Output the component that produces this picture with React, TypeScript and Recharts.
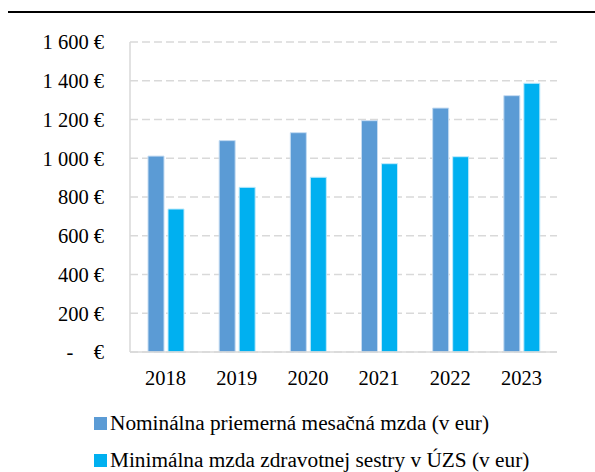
import React from 'react';
import { BarChart, Bar, XAxis, YAxis, CartesianGrid } from 'recharts';

const years = ['2018', '2019', '2020', '2021', '2022', '2023'];
const nominalWage = [1011, 1091, 1132, 1194, 1259, 1323];
const nurseMinWage = [738, 850, 902, 972, 1008, 1387];
const yTicks = [0, 200, 400, 600, 800, 1000, 1200, 1400, 1600];

const seriesNames = [
  'Nominálna priemerná mesačná mzda (v eur)',
  'Minimálna mzda zdravotnej sestry v ÚZS (v eur)',
];
const seriesColors = ['#5B9BD5', '#00B0F0'];

const chartData = years.map((year, i) => ({
  year,
  nominal: nominalWage[i],
  nurse: nurseMinWage[i],
}));

const FONT = '"Liberation Serif", "Times New Roman", serif';

const formatEuro = (v: number) => {
  if (v === 0) return '-\u00A0\u00A0\u00A0\u00A0€';
  const s = String(v);
  const withSpaces = s.length > 3 ? s.slice(0, s.length - 3) + ' ' + s.slice(-3) : s;
  return `${withSpaces} €`;
};

const App: React.FC = () => {
  return (
    <div
      style={{
        position: 'absolute',
        left: 0,
        top: 0,
        width: 595,
        height: 472,
        background: '#fff',
        fontFamily: FONT,
        overflow: 'hidden',
      }}
    >
      <div style={{ position: 'absolute', left: 8, top: 11, width: 587, height: 2, background: '#000' }} />
      <BarChart
        width={595}
        height={400}
        data={chartData}
        margin={{ top: 42, right: 38, left: 0, bottom: 0 }}
        barSize={16}
        barGap={4}
      >
        <CartesianGrid vertical={false} stroke="#d9d9d9" strokeDasharray="8 4" strokeWidth={1.5} />
        <XAxis
          dataKey="year"
          height={48}
          tickLine={false}
          axisLine={{ stroke: '#d9d9d9', strokeWidth: 1.5 }}
          tickMargin={12}
          tick={{ fill: '#000', fontSize: 20.5, fontFamily: FONT }}
        />
        <YAxis
          width={130}
          domain={[0, 1600]}
          ticks={yTicks}
          tickFormatter={formatEuro}
          tickLine={false}
          axisLine={{ stroke: '#d9d9d9', strokeWidth: 1.5 }}
          tickMargin={20}
          tick={{ fill: '#000', fontSize: 20.5, fontFamily: FONT }}
        />
        <Bar dataKey="nominal" fill={seriesColors[0]} stroke="#c5dcf2" strokeWidth={1} isAnimationActive={false} />
        <Bar dataKey="nurse" fill={seriesColors[1]} stroke="#bfeafb" strokeWidth={1} isAnimationActive={false} />
      </BarChart>
      {seriesNames.map((name, i) => (
        <div
          key={name}
          style={{
            position: 'absolute',
            left: 94,
            top: 411 + i * 37,
            height: 24,
            display: 'flex',
            alignItems: 'center',
            fontSize: 21.3,
            color: '#000',
            whiteSpace: 'nowrap',
          }}
        >
          <span style={{ width: 13, height: 13, background: seriesColors[i], marginRight: 3, display: 'inline-block' }} />
          {name}
        </div>
      ))}
    </div>
  );
};

export default App;
